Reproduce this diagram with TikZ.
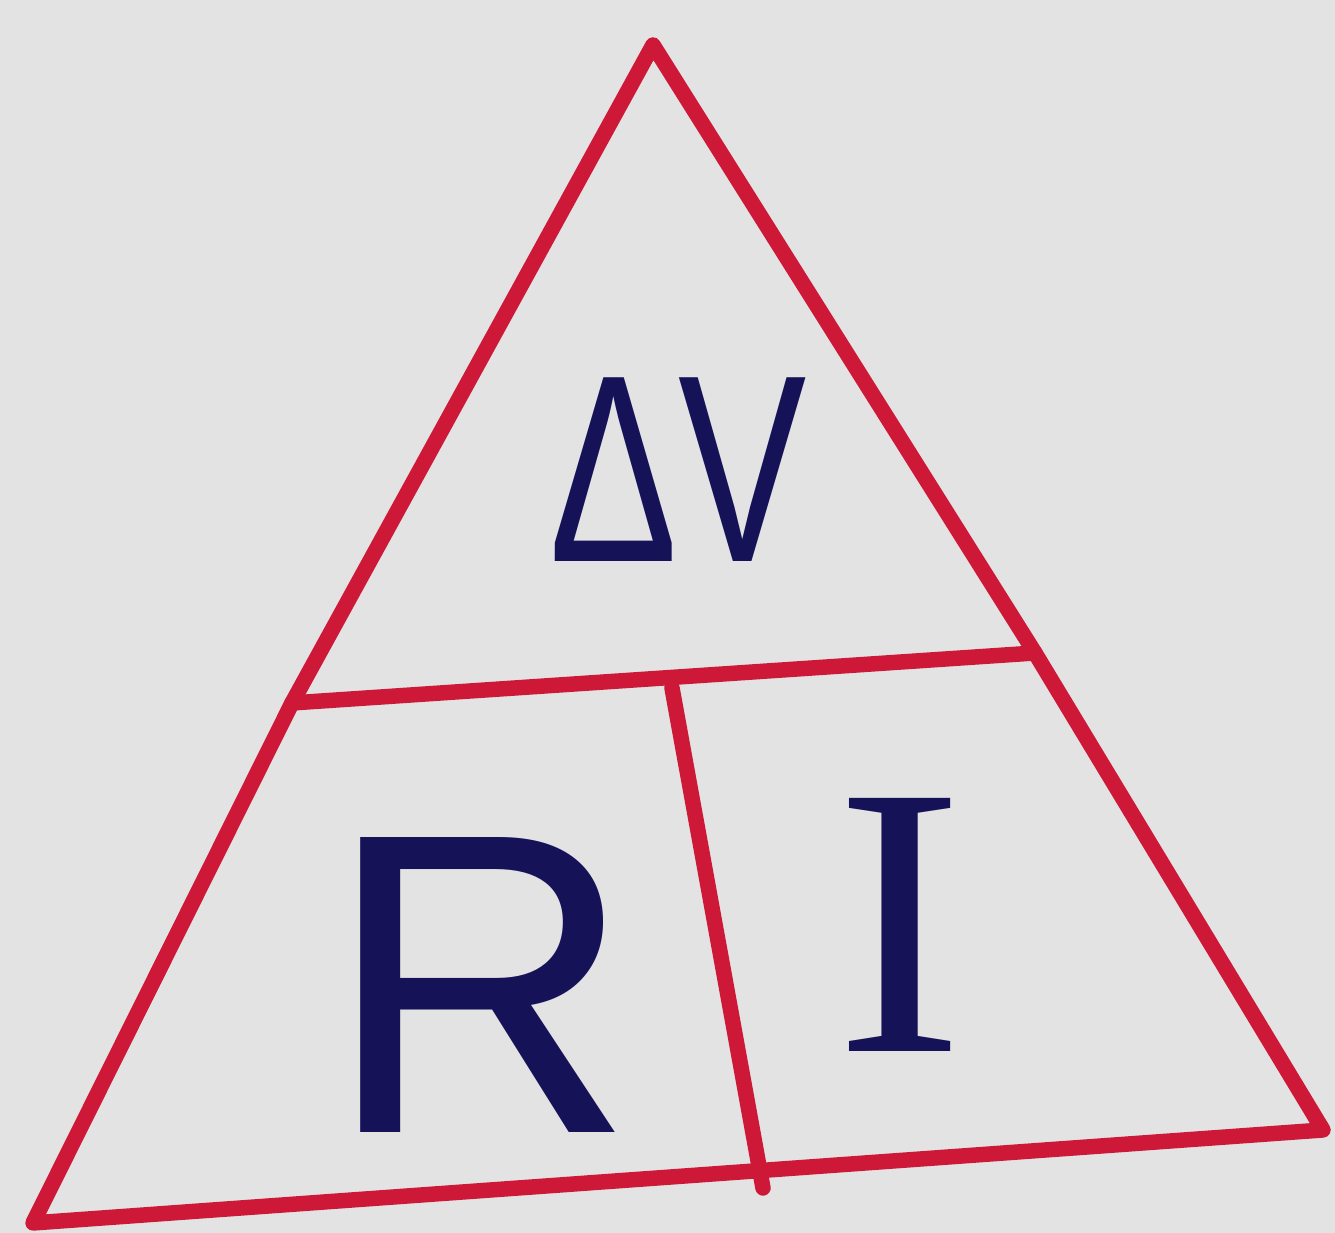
\documentclass[tikz,border=0pt]{standalone}
\usepackage{fontspec}
\setmainfont{Liberation Serif}
\setsansfont{Liberation Sans}
\usepackage{tikz}
\usetikzlibrary{calc}
\usepackage{xcolor}
\definecolor{paper}{RGB}{227,227,227}
\definecolor{penred}{RGB}{205,25,55}
\definecolor{pennavy}{RGB}{22,18,88}
\tikzset{
  edge/.style={draw=penred, line width=4.4pt, line cap=round, line join=round},
  letter/.style={text=pennavy, inner sep=0pt, font=\sffamily},
}

\begin{document}
\begin{tikzpicture}
% paper
\fill[paper] (0,0) rectangle (13.35,12.33);
\useasboundingbox (0,0) rectangle (13.35,12.33);
% corners
\coordinate (top) at (6.53,11.88);
\coordinate (bl) at (0.33,0.10);
\coordinate (br) at (13.23,1.03);
\coordinate (ml) at (2.92,5.30);
\coordinate (mr) at (10.35,5.80);
\coordinate (vt) at (6.72,5.45);
\coordinate (vb) at (7.63,0.45);
% outline and dividers
\draw[edge] (top) -- (ml) -- (bl) -- (br) -- (mr) -- cycle;
\draw[edge] (ml) -- (mr);
\draw[edge] (vt) -- (vb);
% labels
\node[letter, font=\sffamily\fontsize{76}{80}\selectfont, xscale=0.72, transform shape] (dv) at (6.78,7.63) {ΔV};
\node[letter, font=\sffamily\fontsize{122}{126}\selectfont] (r) at (4.80,2.48) {R};
\node[letter, font=\rmfamily\fontsize{110}{114}\selectfont] (i) at (9.00,3.08) {I};
\end{tikzpicture}
\end{document}
